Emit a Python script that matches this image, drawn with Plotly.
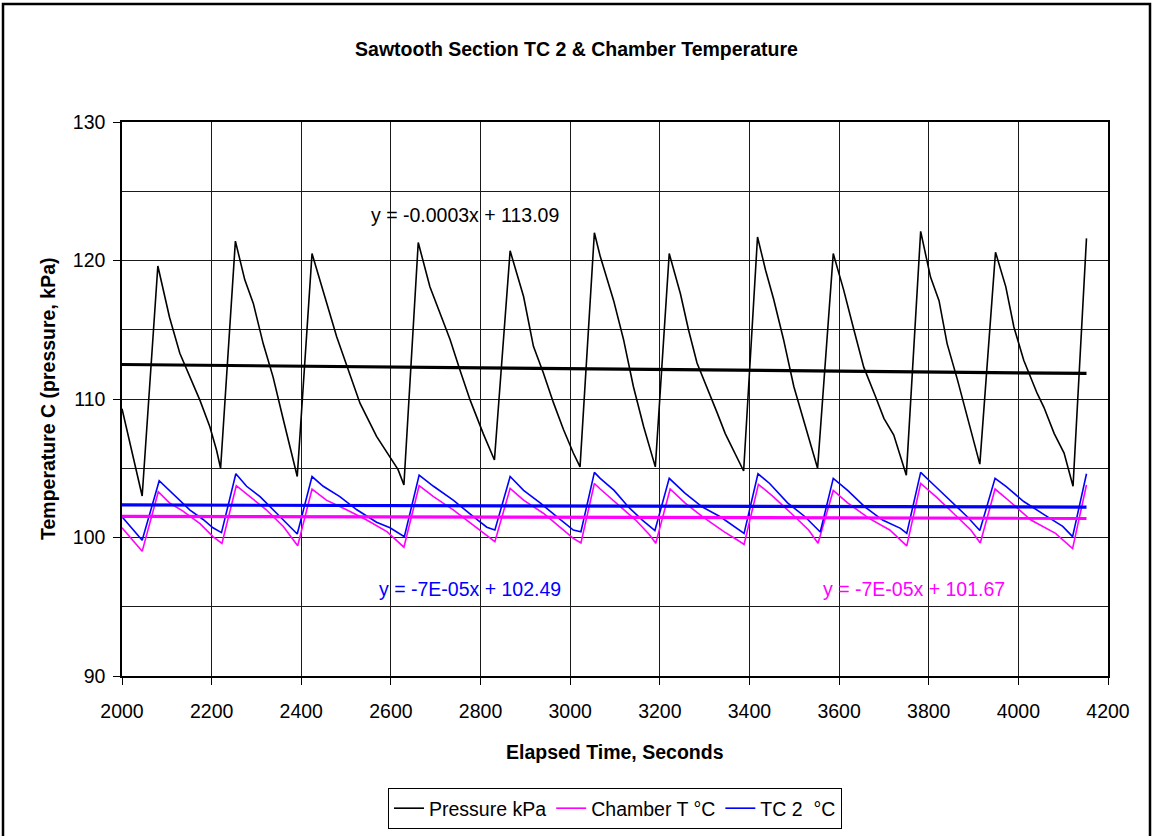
import plotly.graph_objects as go

# ---------------- data ----------------
pressure_x = [2000, 2045, 2080, 2106, 2129, 2147, 2174, 2196, 2211, 2220,
              2253, 2274, 2293, 2315, 2337, 2360, 2378, 2391,
              2424, 2456, 2479, 2505, 2531, 2568, 2598, 2616, 2629,
              2661, 2687, 2710, 2732, 2754, 2777, 2806, 2831,
              2866, 2896, 2918, 2940, 2963, 2985, 3007, 3022,
              3054, 3067, 3097, 3119, 3141, 3164, 3190,
              3221, 3246, 3264, 3283, 3305, 3328, 3346, 3368, 3387,
              3418, 3436, 3454, 3476, 3499, 3529, 3552,
              3587, 3610, 3633, 3655, 3681, 3700, 3722, 3741, 3750,
              3782, 3804, 3823, 3841, 3864, 3886, 3914,
              3949, 3972, 3990, 4012, 4042, 4057, 4080, 4102, 4122,
              4152]
pressure_y = [109.3, 103.0, 119.6, 115.9, 113.3, 111.9, 109.9, 108.0, 106.3, 105.0,
              121.4, 118.6, 116.9, 114.0, 111.6, 108.5, 106.1, 104.4,
              120.5, 116.9, 114.5, 112.1, 109.7, 107.3, 105.8, 104.9, 103.8,
              121.3, 118.1, 116.2, 114.3, 112.1, 109.9, 107.5, 105.6,
              120.7, 117.4, 113.8, 111.9, 109.7, 107.8, 106.1, 105.1,
              122.0, 120.3, 117.1, 114.3, 110.9, 108.0, 105.1,
              120.5, 117.6, 115.0, 112.6, 110.9, 109.0, 107.5, 106.1, 104.8,
              121.7, 119.3, 117.2, 114.3, 110.9, 107.5, 105.0,
              120.5, 117.9, 115.0, 112.3, 110.2, 108.6, 107.4, 105.4, 104.5,
              122.1, 118.8, 117.1, 114.0, 111.4, 108.7, 105.3,
              120.6, 118.1, 115.2, 112.8, 110.4, 109.4, 107.5, 106.1, 103.7,
              121.6]

chamber_x = [2000, 2045, 2081, 2106, 2136, 2174, 2203, 2223,
             2255, 2285, 2322, 2360, 2392,
             2424, 2456, 2501, 2546, 2591, 2613, 2629,
             2663, 2695, 2739, 2784, 2814, 2832,
             2866, 2896, 2940, 2985, 3007, 3024,
             3054, 3067, 3098, 3146, 3177, 3191,
             3223, 3256, 3295, 3343, 3374, 3388,
             3420, 3453, 3493, 3532, 3553,
             3587, 3619, 3666, 3713, 3751,
             3782, 3816, 3855, 3894, 3915,
             3948, 3981, 4028, 4083, 4121,
             4152]
chamber_y = [100.7, 99.0, 103.3, 102.5, 101.9, 101.0, 100.06, 99.58,
             103.74, 102.95, 102.0, 100.8, 99.4,
             103.5, 102.7, 102.0, 101.26, 100.42, 99.8, 99.3,
             103.74, 102.95, 102.0, 100.9, 100.2, 99.7,
             103.55, 102.7, 101.75, 100.54, 99.94, 99.6,
             103.9, 103.5, 102.6, 101.26, 100.2, 99.58,
             103.5, 102.5, 101.5, 100.42, 99.8, 99.5,
             103.84, 102.95, 101.75, 100.54, 99.58,
             103.4, 102.5, 101.4, 100.54, 99.4,
             103.9, 102.95, 101.75, 100.54, 99.6,
             103.5, 102.6, 101.26, 100.3, 99.2,
             103.8]

tc2_x = [2000, 2045, 2083, 2106, 2129, 2151, 2181, 2203, 2222,
         2254, 2278, 2308, 2345, 2375, 2391,
         2424, 2449, 2486, 2524, 2568, 2598, 2630,
         2663, 2695, 2739, 2784, 2814, 2832,
         2866, 2896, 2933, 2970, 3007, 3024,
         3054, 3067, 3098, 3130, 3161, 3189,
         3221, 3256, 3295, 3335, 3366, 3388,
         3419, 3445, 3485, 3524, 3558,
         3587, 3619, 3658, 3697, 3737, 3751,
         3782, 3808, 3847, 3886, 3914,
         3948, 3973, 4012, 4060, 4099, 4121,
         4152]
tc2_y = [101.5, 99.8, 104.1, 103.4, 102.7, 102.0, 101.3, 100.7, 100.35,
         104.6, 103.7, 102.95, 101.75, 100.8, 100.25,
         104.4, 103.7, 102.95, 102.0, 101.1, 100.7, 100.06,
         104.5, 103.7, 102.7, 101.5, 100.74, 100.54,
         104.4, 103.4, 102.5, 101.5, 100.54, 100.42,
         104.7, 104.27, 103.4, 102.2, 101.26, 100.5,
         104.27, 103.2, 102.2, 101.5, 100.8, 100.3,
         104.6, 103.9, 102.5, 101.5, 100.4,
         104.27, 103.4, 102.2, 101.26, 100.66, 100.3,
         104.7, 103.9, 102.7, 101.5, 100.5,
         104.27, 103.67, 102.6, 101.6, 100.8, 100.06,
         104.6]

series_names = ["Pressure kPa", "Chamber T °C", "TC 2  °C"]
series_colors = ["#000000", "#FF00FF", "#0000FF"]

# linear trend lines as displayed on the chart (slope, intercept)
trend_slope = [-0.0003, -7e-05, -7e-05]
trend_intercept = [113.09, 101.67, 102.49]
trend_labels = ["y = -0.0003x + 113.09", "y = -7E-05x + 101.67", "y = -7E-05x + 102.49"]
trend_label_x = [2765, 3767, 2776]
trend_label_y = [123.3, 96.3, 96.3]

title_text = "Sawtooth Section TC 2 & Chamber Temperature"
x_title = "Elapsed Time, Seconds"
y_title = "Temperature C (pressure, kPa)"

for a, b in [(pressure_x, pressure_y), (chamber_x, chamber_y), (tc2_x, tc2_y)]:
    assert len(a) == len(b)

# ---------------- figure ----------------
FONT = "Arial, 'Liberation Sans', sans-serif"
FS = 19.5
fig = go.Figure()

data_sets = [(pressure_x, pressure_y), (chamber_x, chamber_y), (tc2_x, tc2_y)]
for (xs, ys), name, col in zip(data_sets, series_names, series_colors):
    fig.add_trace(go.Scatter(x=xs, y=ys, mode="lines", name=name,
                             line=dict(color=col, width=1.6)))

# trend lines (drawn on top)
for (xs, ys), col, m, c in zip(data_sets, series_colors, trend_slope, trend_intercept):
    x0, x1 = min(xs), max(xs)
    fig.add_trace(go.Scatter(x=[x0, x1], y=[m * x0 + c, m * x1 + c], mode="lines",
                             line=dict(color=col, width=3.2), showlegend=False,
                             hoverinfo="skip"))

for txt, col, ax, ay in zip(trend_labels, series_colors, trend_label_x, trend_label_y):
    fig.add_annotation(x=ax, y=ay, xref="x", yref="y", text=txt, showarrow=False,
                       font=dict(family=FONT, size=FS, color=col))

W, H = 1153, 836
L, R, T, B = 122, 45, 122, 160
pw, ph = W - L - R, H - T - B

def px_to_paper_x(px):
    return (px - L) / pw

def px_to_paper_y(py):
    return (H - B - py) / ph

# axis titles
fig.add_annotation(text="<b>" + x_title + "</b>", xref="paper", yref="paper",
                   x=px_to_paper_x(615), y=px_to_paper_y(752), showarrow=False,
                   xanchor="center", yanchor="middle",
                   font=dict(family=FONT, size=FS, color="black"))
fig.add_annotation(text="<b>" + y_title + "</b>", xref="paper", yref="paper",
                   x=px_to_paper_x(48), y=0.5, showarrow=False, textangle=-90,
                   xanchor="center", yanchor="middle",
                   font=dict(family=FONT, size=FS, color="black"))

# outer chart frame
fig.add_shape(type="rect", xref="paper", yref="paper",
              x0=px_to_paper_x(3), x1=px_to_paper_x(1150),
              y0=px_to_paper_y(842), y1=px_to_paper_y(4),
              line=dict(color="black", width=2.5), fillcolor="rgba(0,0,0,0)", layer="above")

GRID = "#1a1a1a"
fig.update_layout(
    width=W, height=H,
    margin=dict(l=L, r=R, t=T, b=B, autoexpand=False),
    paper_bgcolor="white", plot_bgcolor="white",
    font=dict(family=FONT, size=FS, color="black"),
    title=dict(text="<b>" + title_text + "</b>", x=0.5, xref="container", xanchor="center",
               y=1 - 49 / H, yref="container", yanchor="middle",
               font=dict(family=FONT, size=FS, color="black")),
    showlegend=True,
    legend=dict(orientation="h", x=0.5, xanchor="center", y=px_to_paper_y(788), yanchor="top",
                bordercolor="black", borderwidth=1, bgcolor="white",
                font=dict(family=FONT, size=FS, color="black"),
                itemwidth=30, tracegroupgap=0),
    xaxis=dict(range=[2000, 4200], tick0=2000, dtick=200, showgrid=True, gridcolor=GRID,
               gridwidth=1, zeroline=False, showline=True, linecolor="black", linewidth=1.5,
               mirror=True, ticks="outside", ticklen=7, tickcolor="black", tickwidth=1,
               ticklabelstandoff=10, tickfont=dict(family=FONT, size=FS, color="black")),
    yaxis=dict(range=[90, 130], tick0=90, dtick=10, showgrid=True, gridcolor=GRID,
               gridwidth=1, zeroline=False, showline=True, linecolor="black", linewidth=1.5,
               mirror=True, ticks="outside", ticklen=7, tickcolor="black", tickwidth=1,
               ticklabelstandoff=4, tickfont=dict(family=FONT, size=FS, color="black"),
               minor=dict(dtick=5, tick0=90, showgrid=True, gridcolor=GRID, gridwidth=1,
                          ticks="")),
)

fig.write_html("out.html")
